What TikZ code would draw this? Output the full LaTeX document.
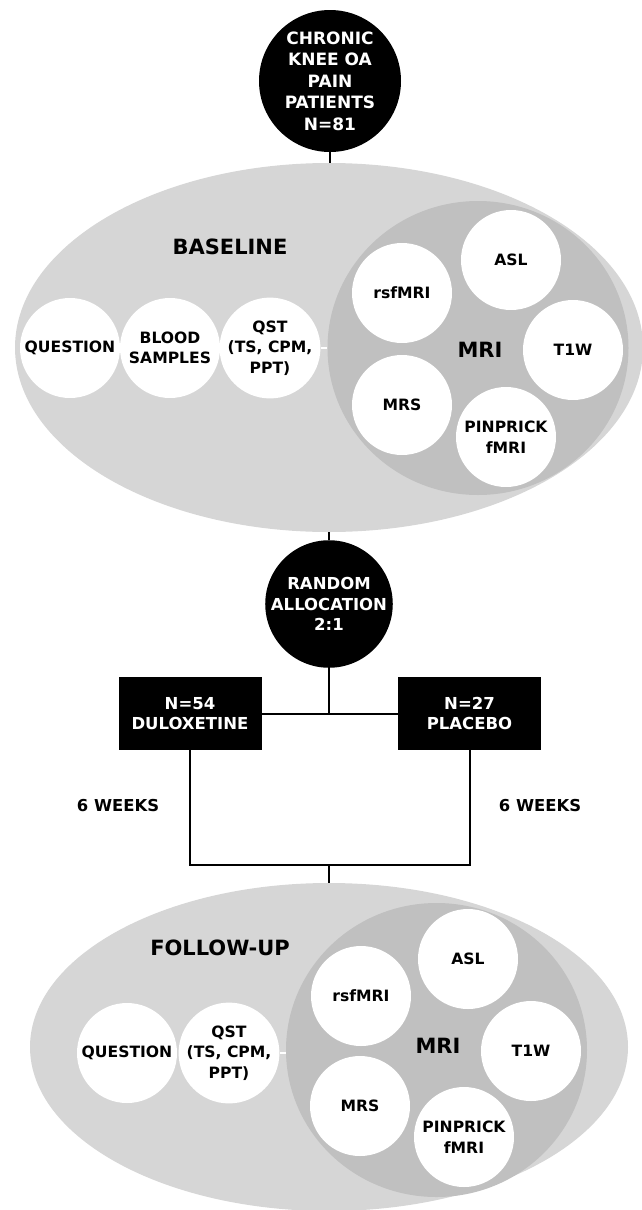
\documentclass[tikz,border=0pt]{standalone}
\usepackage{fontspec}
\setmainfont{DejaVu Sans}
\usetikzlibrary{shapes.geometric}
\definecolor{outergray}{HTML}{D6D6D6}
\definecolor{innergray}{HTML}{C0C0C0}
\begin{document}
\begin{tikzpicture}[x=1pt,y=-1pt,
  lbl/.style={font=\fontsize{15.6}{20.5}\selectfont\bfseries, align=center},
  head/.style={font=\fontsize{21}{24}\selectfont\bfseries, inner sep=0pt},
  wcirc/.style={circle, fill=white, minimum size=100pt, inner sep=0pt, lbl},
  bcirc/.style={circle, fill=black, text=white, inner sep=0pt, lbl},
  bbox/.style={rectangle, fill=black, text=white, minimum width=143pt, minimum height=73pt, inner sep=0pt, lbl, font=\fontsize{16.5}{20.5}\selectfont\bfseries},
  outerell/.style={ellipse, fill=outergray, inner sep=0pt},
  innerell/.style={ellipse, fill=innergray, inner sep=0pt, minimum width=301pt, minimum height=294pt},
  conn/.style={line width=2pt, black},
  wconn/.style={line width=2pt, white},
  wk/.style={font=\fontsize{16.4}{18}\selectfont\bfseries, inner sep=0pt}
]
\useasboundingbox (0,0) rectangle (642,1210);

% ---------- top ----------
\node[bcirc, minimum size=142pt, font=\fontsize{17}{21.5}\selectfont\bfseries] (top) at (330,81) {CHRONIC\\KNEE OA\\PAIN\\PATIENTS\\N=81};

% ---------- baseline ----------
\node[outerell, minimum width=628pt, minimum height=369pt] (base) at (329,347.5) {};
\node[innerell] (bmri) at (478,348) {};
\node[head] (btitle) at (230,247) {BASELINE};
\node[head] (bmrit) at (480,350) {MRI};
\node[wcirc] (bq) at (70,348) {QUESTION};
\node[wcirc] (bb) at (170,348) {BLOOD\\SAMPLES};
\node[wcirc] (bqst) at (270,348) {QST\\(TS, CPM,\\PPT)};
\node[wcirc] (brs) at (402,293) {rsfMRI};
\node[wcirc] (basl) at (511,260) {ASL};
\node[wcirc] (bt1) at (573,350) {T1W};
\node[wcirc] (bmrs) at (402,405) {MRS};
\node[wcirc] (bpin) at (506,437) {PINPRICK\\fMRI};
\draw[wconn] (bqst.east) -- (bmri.west);

% ---------- randomisation ----------
\node[bcirc, minimum size=122pt, font=\fontsize{16.5}{20.5}\selectfont\bfseries] (rand) at (329,604) {RANDOM\\ALLOCATION\\2:1};
\node[bbox] (dul) at (190,713.5) {N=54\\DULOXETINE};
\node[bbox] (pla) at (469.5,713.5) {N=27\\PLACEBO};
\coordinate (j1) at (190,865);
\coordinate (j2) at (469.5,865);
\coordinate (jm) at (329,865);
\node[wk] (wl) at (118,806) {6 WEEKS};
\node[wk] (wr) at (540,806) {6 WEEKS};

% ---------- follow-up ----------
\node[outerell, minimum width=598pt, minimum height=328pt] (fu) at (329,1047) {};
\node[innerell] (fmri) at (436.5,1050) {};
\node[head] (ftitle) at (220,948) {FOLLOW-UP};
\node[head] (fmrit) at (438,1046) {MRI};
\node[wcirc] (fq) at (127,1053) {QUESTION};
\node[wcirc] (fqst) at (229,1053) {QST\\(TS, CPM,\\PPT)};
\node[wcirc] (frs) at (361,996) {rsfMRI};
\node[wcirc] (fasl) at (468,959) {ASL};
\node[wcirc] (ft1) at (531,1051) {T1W};
\node[wcirc] (fmrs) at (360,1106) {MRS};
\node[wcirc] (fpin) at (464,1137) {PINPRICK\\fMRI};
\draw[wconn] (fqst.east) -- (fqst.east -| fmri.west);

% ---------- connectors ----------
\draw[conn] (top.south) -- (top.south |- base.north);
\draw[conn] (base.south) -- (rand.north);
\draw[conn] (rand.south) -- (rand.south |- dul.east);
\draw[conn] (dul.east) -- (pla.west);
\draw[conn] (dul.south) -- (j1) -- (j2) -- (pla.south);
\draw[conn] (jm) -- (fu.north);
\end{tikzpicture}
\end{document}
